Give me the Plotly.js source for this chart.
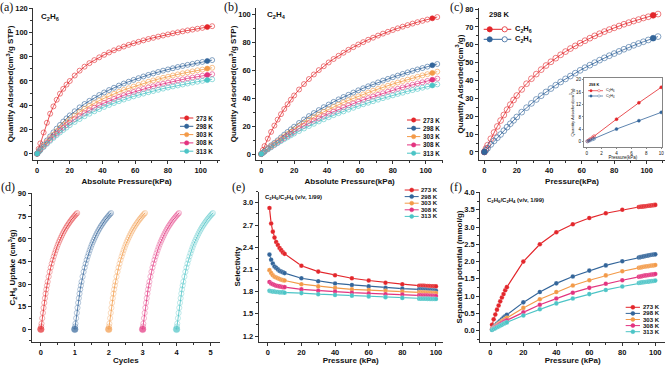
<!DOCTYPE html>
<html><head><meta charset="utf-8">
<script src="https://cdn.plot.ly/plotly-3.0.1.min.js"></script>
<style>html,body{margin:0;padding:0;background:#fff}#chart{width:665px;height:365px}</style>
</head><body><div id="chart"></div>
<script>
// ---------- DATA ----------
const temps = ['273 K','298 K','303 K','308 K','313 K'];
const cycles = [0,1,2,3,4];
const pIso = [0,1,2,4,6,8,10,12,14,16,18,20,23,26,29,32,35,38,41,44,47,50,53,56,59,62,65,68,71,74,77,80,83,86,89,92,95,98,101,104,107];
const c2h6_273 = [0,4,8.5,17.5,25.5,33,39,44.5,49.5,53.5,57,60,64.5,68.5,71.8,74.7,77.2,79.5,81.6,83.5,85.3,86.9,88.4,89.8,91.1,92.3,93.5,94.6,95.6,96.6,97.5,98.4,99.3,100.1,100.9,101.7,102.4,103.1,103.8,104.5,105.2];
const c2h6_298 = [0,1.9,3.8,7.4,10.9,14.3,17.6,20.7,23.7,26.5,29.1,31.6,35.0,38.2,41.0,43.6,46.1,48.4,50.5,52.5,54.4,56.2,57.9,59.4,60.9,62.3,63.7,65.0,66.2,67.4,68.5,69.5,70.5,71.5,72.4,73.3,74.1,75.0,75.7,76.5,77.2];
const c2h6_303 = [0,1.7,3.4,6.6,9.7,12.8,15.7,18.5,21.2,23.7,26.0,28.2,31.5,34.4,37.0,39.4,41.6,43.8,45.7,47.6,49.4,51.0,52.6,54.0,55.4,56.8,58.1,59.3,60.4,61.5,62.6,63.5,64.5,65.4,66.3,67.1,67.9,68.8,69.4,70.2,70.9];
const c2h6_308 = [0,1.5,3.0,5.9,8.7,11.4,14.0,16.6,19.0,21.3,23.5,25.6,28.6,31.2,33.6,35.9,38.0,40.0,41.8,43.5,45.2,46.8,48.2,49.6,50.9,52.2,53.4,54.6,55.6,56.7,57.7,58.6,59.5,60.4,61.3,62.1,62.8,63.6,64.3,65.0,65.6];
const c2h6_313 = [0,1.4,2.8,5.5,8.1,10.6,13.0,15.3,17.5,19.6,21.6,23.6,26.2,28.6,30.9,33.0,35.0,36.8,38.6,40.2,41.8,43.3,44.7,46.0,47.3,48.5,49.6,50.7,51.7,52.7,53.7,54.6,55.5,56.3,57.1,57.9,58.7,59.4,60.1,60.7,61.4];
const c2h4_273 = [0,2.9,5.7,11.0,15.9,20.4,24.7,28.6,32.3,35.7,39.0,42.0,46.3,50.2,53.8,57.1,60.2,63.0,65.7,68.2,70.5,72.7,74.8,76.7,78.6,80.3,82.0,83.5,85.0,86.4,87.7,89.0,90.2,91.4,92.5,93.6,94.6,95.6,96.5,97.4,98.3];
const c2h4_298 = [0,1.0,2.1,4.2,6.2,8.0,9.8,11.9,13.9,15.8,17.7,19.6,22.3,24.8,27.2,29.4,31.5,33.6,35.5,37.4,39.2,40.9,42.5,44.1,45.7,47.2,48.6,50.0,51.4,52.7,53.9,55.1,56.3,57.5,58.6,59.7,60.7,61.7,62.7,63.7,64.6];
const c2h4_303 = [0,0.9,1.9,3.8,5.6,7.3,9.0,10.8,12.6,14.3,15.9,17.6,20.2,22.4,24.5,26.5,28.4,30.3,32.0,33.8,35.4,37.0,38.5,40.0,41.4,42.8,44.1,45.4,46.7,47.9,49.0,50.2,51.3,52.4,53.4,54.4,55.4,56.4,57.3,58.2,59.1];
const c2h4_308 = [0,0.8,1.7,3.4,5.0,6.6,8.2,9.8,11.4,12.9,14.4,15.9,18.2,20.2,22.1,23.9,25.6,27.3,29.0,30.5,32.0,33.5,34.9,36.3,37.6,38.9,40.1,41.3,42.5,43.6,44.7,45.8,46.8,47.8,48.8,49.7,50.6,51.5,52.4,53.3,54.1];
const c2h4_313 = [0,0.8,1.7,3.3,4.8,6.4,7.8,9.3,10.7,12.0,13.4,14.7,16.5,18.3,20.1,21.7,23.4,24.9,26.4,27.9,29.3,30.6,31.9,33.2,34.5,35.7,36.8,37.9,39.0,40.1,41.1,42.1,43.1,44.0,45.0,45.9,46.7,47.6,48.4,49.2,50.0];
const insetP = [0.1,0.3,0.5,0.8,1.0,4.0,7.0,10.0];
const insetC2H6 = [0.2,0.5,0.9,1.4,1.8,7.3,12.6,17.6];
const insetC2H4 = [0.1,0.3,0.5,0.8,1.0,4.1,6.8,9.5];
const pSel = [1,2,3,4,5,6,7,8,9,10,20,30,40,50,60,70,80,90,91,92,93,94,95,96,97,98,99,100];
const sel_273 = [2.93,2.72,2.61,2.53,2.47,2.43,2.39,2.36,2.33,2.31,2.15,2.07,2.02,1.98,1.95,1.92,1.90,1.88,1.879,1.878,1.877,1.876,1.875,1.874,1.873,1.872,1.871,1.87];
const sel_298 = [2.30,2.23,2.18,2.14,2.12,2.10,2.08,2.07,2.06,2.05,1.98,1.94,1.91,1.89,1.87,1.85,1.84,1.83,1.829,1.827,1.825,1.823,1.821,1.819,1.817,1.815,1.813,1.81];
const sel_303 = [2.09,2.05,2.02,2.00,1.99,1.98,1.97,1.96,1.955,1.95,1.90,1.87,1.85,1.83,1.82,1.81,1.80,1.79,1.789,1.788,1.787,1.786,1.785,1.784,1.783,1.782,1.781,1.78];
const sel_308 = [1.93,1.91,1.90,1.89,1.88,1.875,1.87,1.865,1.86,1.86,1.83,1.81,1.80,1.785,1.775,1.765,1.76,1.75,1.749,1.748,1.747,1.746,1.745,1.744,1.743,1.742,1.741,1.74];
const sel_313 = [1.81,1.805,1.80,1.80,1.795,1.795,1.79,1.79,1.79,1.785,1.78,1.765,1.755,1.745,1.735,1.725,1.715,1.705,1.704,1.704,1.703,1.703,1.702,1.702,1.701,1.701,1.70,1.70];
const sp_273 = [0.17,0.33,0.47,0.61,0.73,0.85,0.96,1.06,1.17,1.26,2.0,2.5,2.85,3.08,3.26,3.40,3.50,3.58,3.585,3.59,3.597,3.603,3.61,3.615,3.62,3.627,3.633,3.64];
const sp_298 = [0.05,0.1,0.15,0.2,0.24,0.29,0.33,0.38,0.42,0.46,0.82,1.12,1.37,1.57,1.74,1.89,2.01,2.12,2.13,2.14,2.15,2.16,2.17,2.18,2.19,2.20,2.205,2.21];
const sp_303 = [0.04,0.08,0.12,0.16,0.2,0.23,0.27,0.3,0.34,0.37,0.66,0.91,1.12,1.31,1.46,1.60,1.72,1.82,1.83,1.84,1.85,1.86,1.865,1.87,1.88,1.885,1.89,1.90];
const sp_308 = [0.03,0.06,0.1,0.13,0.16,0.19,0.22,0.25,0.28,0.3,0.53,0.75,0.93,1.10,1.24,1.36,1.46,1.56,1.57,1.58,1.59,1.60,1.605,1.61,1.62,1.625,1.63,1.64];
const sp_313 = [0.02,0.05,0.07,0.1,0.12,0.15,0.17,0.2,0.22,0.24,0.44,0.62,0.79,0.93,1.06,1.18,1.28,1.38,1.39,1.40,1.405,1.41,1.415,1.42,1.43,1.435,1.44,1.45];

// ---------- STYLE ----------
const colors = ['#e3262b','#33659a','#f39a48','#e3337f','#4cc4c6'];
const W = 665, H = 365;
const px = x => x / W, py = y => 1 - y / H;
const c2h6Series = [c2h6_273, c2h6_298, c2h6_303, c2h6_308, c2h6_313];
const c2h4Series = [c2h4_273, c2h4_298, c2h4_303, c2h4_308, c2h4_313];
const selSeries = [sel_273, sel_298, sel_303, sel_308, sel_313];
const spSeries = [sp_273, sp_298, sp_303, sp_308, sp_313];
const CLEAR = 'rgba(0,0,0,0)';

function hollowFill(n, color) {
  return Array.from({length: n}, (_, i) => (i === 0 || i === n - 2) ? color : CLEAR);
}
function isoTrace(x, y, color, xa, ya, size) {
  return {x, y, xaxis: xa, yaxis: ya, type: 'scatter', mode: 'lines+markers', showlegend: false, hoverinfo: 'skip',
    line: {color, width: 0.8},
    marker: {symbol: 'circle', size, color: hollowFill(y.length, color), line: {color, width: 0.6}}};
}
function ballTrace(x, y, color, xa, ya) {
  return {x, y, xaxis: xa, yaxis: ya, type: 'scatter', mode: 'lines+markers', showlegend: false, hoverinfo: 'skip',
    line: {color, width: 1.2}, marker: {symbol: 'circle', size: 4.6, color, line: {color: 'rgba(255,255,255,0.5)', width: 0.4}}};
}

const traces = [];
c2h6Series.forEach((s, i) => traces.push(isoTrace(pIso, s, colors[i], 'x', 'y', 5)));
c2h4Series.forEach((s, i) => traces.push(isoTrace(pIso, s, colors[i], 'x2', 'y2', 5)));
traces.push(isoTrace(pIso, c2h6_298, colors[0], 'x3', 'y3', 5.8));
traces.push(isoTrace(pIso, c2h4_298, colors[1], 'x3', 'y3', 5.8));
cycles.forEach((c, i) => {
  const t = isoTrace(pIso.map(p => c + p / 100), c2h6_298, colors[i], 'x4', 'y4', 5.2);
  t.marker.color = c2h6_298.map((v, k) => k === 0 ? colors[i] : CLEAR);
  t.marker.size = c2h6_298.map((v, k) => k === 0 ? 6.5 : 5.2);
  t.marker.line.width = 0.5;
  traces.push(t);
});
selSeries.forEach((s, i) => traces.push(ballTrace(pSel, s, colors[i], 'x5', 'y5')));
spSeries.forEach((s, i) => traces.push(ballTrace(pSel, s, colors[i], 'x6', 'y6')));
[[insetC2H6, colors[0]], [insetC2H4, colors[1]]].forEach(([s, col]) => {
  traces.push({x: insetP, y: s, xaxis: 'x7', yaxis: 'y7', type: 'scatter', mode: 'lines+markers', showlegend: false, hoverinfo: 'skip',
    line: {color: col, width: 0.8},
    marker: {symbol: 'circle', size: 3, color: insetP.map(p => p >= 4 ? col : CLEAR), line: {color: col, width: 0.5}}});
});

// ---------- AXES ----------
const TF = {family: 'Arial', size: 7.5, color: '#111', weight: 'bold'};
const TT = {family: 'Arial', size: 8, color: '#111', weight: 'bold'};
function ax(domain, range, dtick, minorDtick, anchor, title, extra, isY) {
  return Object.assign({
    domain, range, dtick, anchor, showline: true, linecolor: '#333', linewidth: 1,
    ticks: 'outside', ticklen: 3, tickwidth: 1, tickcolor: '#333', showgrid: false, zeroline: false,
    tickfont: TF, minor: {ticks: 'outside', ticklen: 2, tickwidth: 1, tickcolor: '#333', dtick: minorDtick},
    title: {text: title, font: TT, standoff: isY ? 0 : 4}
  }, extra || {});
}
const yTop = [py(160), py(8)];
const yBot = b => [py(341.7), py(b)];
const insetFont = {family: 'Arial', size: 4.5, color: '#111'};
const layout = {
  width: W, height: H, margin: {l: 0, r: 0, t: 0, b: 0}, paper_bgcolor: '#fff', plot_bgcolor: 'rgba(0,0,0,0)',
  showlegend: false,
  xaxis: ax([px(33.3), px(220)], [-2.3, 111.8], 20, 10, 'y', 'Absolute Pressure(kPa)'),
  yaxis: ax(yTop, [-5.2, 120.2], 20, 10, 'x', 'Quantity Adsorbed(cm<sup>3</sup>/g STP)', null, true),
  xaxis2: ax([px(256.3), px(443)], [-3.0, 110.5], 20, 10, 'y2', 'Absolute Pressure(kPa)'),
  yaxis2: ax(yTop, [-4.3, 104.8], 20, 10, 'x2', 'Quantity Adsorbed(cm<sup>3</sup>/g STP)', null, true),
  xaxis3: ax([px(479), 1], [-3.3, 111.3], 20, 10, 'y3', 'Pressure(kPa)'),
  yaxis3: ax(yTop, [-4.5, 80.6], 10, 5, 'x3', 'Quantity Adsorbed(cm<sup>3</sup>/g)', null, true),
  xaxis4: ax([px(31.7), px(220)], [-0.27, 5.28], 1, 0.5, 'y4', 'Cycles'),
  yaxis4: ax(yBot(193.3), [-8.2, 90.3], 15, 7.5, 'x4', 'C<sub>2</sub>H<sub>6</sub> Uptake (cm<sup>3</sup>/g)', null, true),
  xaxis5: ax([px(258.7), px(442.7)], [-5.4, 104], 20, 10, 'y5', 'Pressure (kPa)'),
  yaxis5: ax(yBot(191.7), [1.123, 3.15], 0.3, 0.15, 'x5', 'Selectivity', {tick0: 1.2, tickformat: '.1f'}, true),
  xaxis6: ax([px(480.3), 1], [-6.1, 105.9], 20, 10, 'y6', 'Pressure (kPa)'),
  yaxis6: ax(yBot(192.3), [-0.318, 4.005], 0.5, 0.25, 'x6', 'Separation potential (mmol/g)', {tickformat: '.1f'}, true),
  xaxis7: ax([px(584), px(662)], [-0.36, 10.1], 2, 1, 'y7', 'Pressure(kPa)',
    {mirror: true, ticklen: 1.5, linewidth: 0.6, tickwidth: 0.6, tickfont: insetFont,
     minor: {ticks: ''}, title: {text: 'Pressure(kPa)', font: insetFont, standoff: 1}}),
  yaxis7: ax([py(147), py(78)], [-1.7, 20.6], 4, 2, 'x7', '',
    {mirror: true, ticklen: 1.5, linewidth: 0.6, tickwidth: 0.6, tickfont: insetFont,
     minor: {ticks: ''}, title: {text: 'Quantity Adsorbed(cm<sup>3</sup>/g)', font: {family: 'Arial', size: 4.2, color: '#111'}, standoff: 1}})
};

// ---------- TEXT + LEGENDS ----------
const shapes = [], annotations = [];
function lab(x, y, text, size, opts) {
  annotations.push(Object.assign({xref: 'paper', yref: 'paper', x: px(x), y: py(y), text, showarrow: false,
    xanchor: 'left', yanchor: 'middle', borderpad: 0, font: {family: 'Arial', size, color: '#111', weight: 'bold'}}, opts || {}));
}
function hline(x0, x1, y, color, w) {
  shapes.push({type: 'line', xref: 'paper', yref: 'paper', x0: px(x0), x1: px(x1), y0: py(y), y1: py(y), line: {color, width: w}});
}
function dot(cx, cy, r, color, filled, lw) {
  shapes.push({type: 'circle', xref: 'paper', yref: 'paper', xsizemode: 'pixel', ysizemode: 'pixel',
    xanchor: px(cx), yanchor: py(cy), x0: -r, x1: r, y0: -r, y1: r,
    fillcolor: filled ? color : '#fff', line: {color, width: lw}});
}
function tempLegend(x0, x1, xt, y0, dy, fs, r) {
  temps.forEach((t, i) => {
    const y = y0 + i * dy;
    hline(x0, x1, y, colors[i], 1);
    dot((x0 + x1) / 2, y, r, colors[i], true, 0.5);
    lab(xt, y, t, fs);
  });
}
tempLegend(180, 193.3, 195, 118, 8.3, 6.3, 2.2);
tempLegend(407, 420.3, 422, 120, 8.3, 6.3, 2.2);
tempLegend(404.7, 418.7, 420, 190, 6.6, 6.0, 2.0);
tempLegend(625.7, 640, 641.5, 307.3, 6.1, 6.0, 2.0);

// (c) legend
[['C<sub>2</sub>H<sub>6</sub>', 29.3, colors[0]], ['C<sub>2</sub>H<sub>4</sub>', 39.3, colors[1]]].forEach(([t, y, c]) => {
  hline(483.7, 511.3, y, c, 1);
  dot(489.7, y, 2.6, c, true, 0.8);
  dot(504.7, y, 2.6, c, false, 0.8);
  lab(513.5, y, t, 7.5);
});
lab(488, 15, '298 K', 7.5);
// inset legend
lab(588, 85, '298 K', 3.8);
[['C<sub>2</sub>H<sub>6</sub>', 90.7, colors[0]], ['C<sub>2</sub>H<sub>4</sub>', 96, colors[1]]].forEach(([t, y, c]) => {
  hline(588, 603, y, c, 0.7);
  dot(591, y, 1.2, c, true, 0.4);
  dot(599, y, 1.2, c, false, 0.4);
  lab(604.5, y, t, 3.8, {font: {family: 'Arial', size: 3.8, color: '#111'}});
});

// panel letters
const serif = {family: 'Liberation Serif, Times New Roman, serif', size: 12, color: '#111'};
[['(a)', 6.5, 7], ['(b)', 231, 7], ['(c)', 456, 7], ['(d)', 8, 187], ['(e)', 238, 187], ['(f)', 456, 187]].forEach(([t, x, y]) =>
  lab(x, y, t, 12, {xanchor: 'center', font: serif}));
lab(40, 17, 'C<sub>2</sub>H<sub>6</sub>', 8);
lab(266, 15, 'C<sub>2</sub>H<sub>4</sub>', 8);
lab(263.5, 197.3, 'C<sub>2</sub>H<sub>6</sub>/C<sub>2</sub>H<sub>4</sub> (v/v, 1/99)', 6);
lab(485.5, 200, 'C<sub>2</sub>H<sub>6</sub>/C<sub>2</sub>H<sub>4</sub> (v/v, 1/99)', 6);

layout.shapes = shapes;
layout.annotations = annotations;
Plotly.newPlot('chart', traces, layout, {displayModeBar: false, staticPlot: true});
</script>
</body></html>
